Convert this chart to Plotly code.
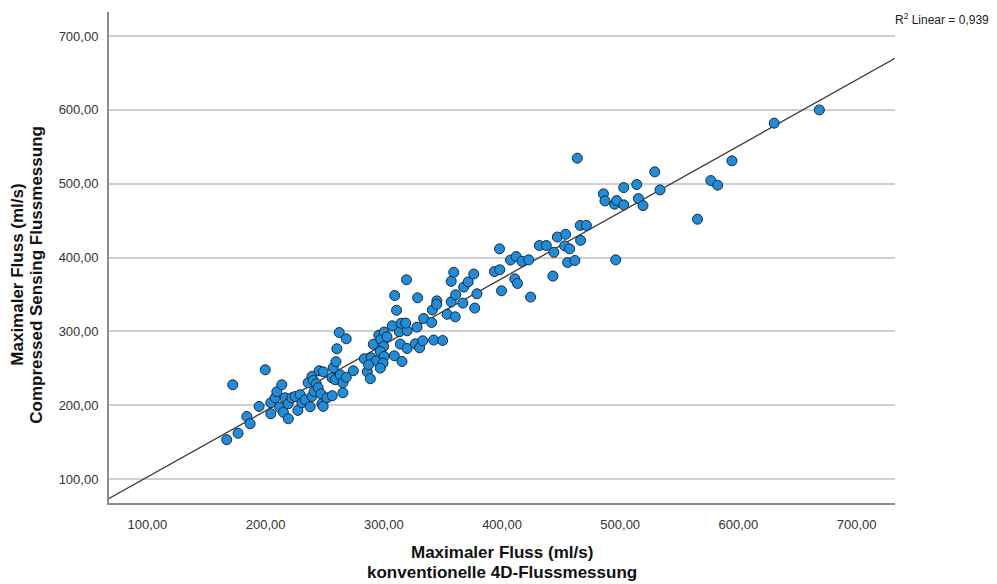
import numpy as np
import plotly.graph_objects as go

# konventionelle 4D-Flussmessung (x) vs. Compressed Sensing Flussmessung (y), ml/s
x_conv = [
    167.1, 176.7, 172.2, 184.1, 186.9, 194.5, 199.7, 204.4, 204.4, 208.1,
    209.5, 211.9, 213.7, 215.0, 216.5, 219.1, 219.2, 222.2, 225.0, 227.3,
    229.2, 230.7, 233.5, 236.0, 237.7, 239.2, 239.2, 240.3, 241.1, 242.8,
    244.5, 245.3, 246.8, 247.6, 248.7, 248.7, 251.9, 256.1, 256.4, 258.9,
    257.2, 259.5, 260.3, 262.3, 263.1, 265.4, 265.4, 268.2, 268.2, 274.2,
    283.5, 286.0, 288.6, 289.2, 293.6, 291.1, 295.8, 297.5, 300.3, 302.7,
    299.8, 297.0, 300.2, 299.3, 297.0, 287.1,
    308.9, 315.4, 314.0, 319.7, 326.7, 330.3, 332.9, 342.2, 349.8, 313.1,
    319.7, 307.2, 314.6, 318.5, 328.1, 333.7, 340.5, 310.8, 309.2, 328.6,
    319.2, 341.1, 344.9, 344.7, 353.6, 357.0, 360.4, 360.8, 366.9, 376.9,
    357.0, 359.2, 367.6, 371.4, 376.1, 378.8,
    393.6, 398.1, 397.9, 399.6, 407.2, 412.0, 410.8, 413.1, 416.9, 422.6,
    424.2, 431.6, 437.5, 443.9, 443.1, 446.8, 453.0, 453.8, 457.2, 455.5,
    461.7, 463.7, 466.5, 466.2, 471.4, 485.8, 487.1, 495.3, 497.0, 496.2,
    503.0, 503.0, 514.0, 515.4, 519.3, 529.2, 533.7, 565.4, 576.7, 582.4,
    594.5, 630.3, 668.5,
]
y_cs = [
    153.2, 162.0, 227.6, 184.7, 174.9, 198.3, 247.9, 188.4, 203.3, 210.0,
    218.2, 197.2, 227.6, 190.4, 210.0, 201.9, 181.6, 210.0, 211.8, 192.9,
    214.1, 203.3, 207.3, 230.4, 197.9, 211.8, 238.9, 233.5, 218.6, 229.0,
    223.6, 246.6, 215.5, 201.9, 198.3, 245.2, 210.0, 237.1, 212.8, 234.4,
    250.7, 258.8, 276.4, 298.4, 241.2, 230.4, 216.8, 289.9, 237.8, 246.6,
    262.8, 245.2, 235.8, 264.2, 260.1, 282.5, 294.6, 289.2, 299.0, 292.6,
    279.5, 272.7, 266.0, 257.0, 250.2, 254.7,
    266.9, 259.2, 282.7, 276.8, 283.1, 277.7, 287.2, 288.2, 287.6, 299.4,
    300.7, 307.5, 310.9, 311.2, 305.7, 317.4, 312.0, 328.5, 348.5, 345.4,
    369.8, 328.9, 341.3, 336.6, 323.1, 340.0, 319.7, 349.5, 338.2, 331.5,
    367.7, 379.9, 359.9, 366.9, 377.6, 350.8,
    381.0, 383.3, 411.7, 354.9, 396.6, 401.3, 371.1, 364.8, 394.8, 396.8,
    346.4, 416.2, 416.2, 407.0, 374.8, 427.7, 415.8, 431.4, 411.7, 393.2,
    395.9, 534.5, 423.2, 443.5, 443.5, 486.2, 476.7, 472.2, 477.1, 396.8,
    494.7, 471.3, 498.8, 479.8, 470.3, 516.0, 491.6, 451.9, 504.2, 498.0,
    530.9, 581.9, 599.9,
]

tick_vals = [100, 200, 300, 400, 500, 600, 700]
tick_text = ["100,00", "200,00", "300,00", "400,00", "500,00", "600,00", "700,00"]
axis_range = [67.5, 732.5]
x_title_lines = ["Maximaler Fluss (ml/s)", "konventionelle 4D-Flussmessung"]
y_title_lines = ["Maximaler Fluss (ml/s)", "Compressed Sensing Flussmessung"]
r2_label = "R<sup>2</sup> Linear = 0,939"

x_arr = np.array(x_conv)
y_arr = np.array(y_cs)
slope, intercept = np.polyfit(x_arr, y_arr, 1)
line_x = np.array(axis_range)
line_y = intercept + slope * line_x

FONT = "Liberation Sans, Arial, sans-serif"
TITLE_FONT = dict(family=FONT, size=17, color="#111111")

fig = go.Figure()
fig.add_trace(go.Scatter(
    x=line_x, y=line_y, mode="lines",
    line=dict(color="#3a3a3a", width=1.3),
    hoverinfo="skip", showlegend=False,
))
fig.add_trace(go.Scatter(
    x=x_conv, y=y_cs, mode="markers",
    marker=dict(size=10, color="#1f8ddc", line=dict(color="#1b2a3a", width=1)),
    showlegend=False,
))

annotations = []
# x-axis title: two lines below the axis (plot bottom at 503 px, plot height 491 px)
for txt, py in zip(x_title_lines, [552, 572]):
    annotations.append(dict(
        text=f"<b>{txt}</b>", xref="paper", yref="paper",
        x=0.5, y=-(py - 503) / 491, xanchor="center", yanchor="middle",
        showarrow=False, font=TITLE_FONT))
# y-axis title: two rotated lines left of the axis (plot left at 109 px, width 786 px)
for txt, px in zip(y_title_lines, [18, 37]):
    annotations.append(dict(
        text=f"<b>{txt}</b>", xref="paper", yref="paper",
        x=-(109 - px) / 786, y=0.465, xanchor="center", yanchor="middle",
        textangle=-90, showarrow=False, font=TITLE_FONT))
annotations.append(dict(
    text=r2_label, xref="paper", yref="paper", x=1.0, y=0.985,
    xanchor="left", yanchor="middle", showarrow=False, xshift=-2,
    font=dict(family=FONT, size=12, color="#222222")))

fig.update_layout(
    width=997, height=584,
    margin=dict(l=109, r=102, t=12, b=81),
    paper_bgcolor="white", plot_bgcolor="white",
    font=dict(family=FONT, color="#333333", size=13),
    xaxis=dict(
        range=axis_range, tickvals=tick_vals, ticktext=tick_text,
        showgrid=False, zeroline=False,
        showline=True, linecolor="#8c8c8c", linewidth=2,
        ticks="", ticklabelstandoff=8,
        tickfont=dict(family=FONT, size=13, color="#333333"),
    ),
    yaxis=dict(
        range=axis_range, tickvals=tick_vals, ticktext=tick_text,
        showgrid=True, gridcolor="#cfcfcf", gridwidth=1.5, zeroline=False,
        showline=True, linecolor="#8c8c8c", linewidth=2,
        ticks="", ticklabelstandoff=6,
        tickfont=dict(family=FONT, size=13, color="#333333"),
    ),
    annotations=annotations,
)

fig.write_html("out.html")
